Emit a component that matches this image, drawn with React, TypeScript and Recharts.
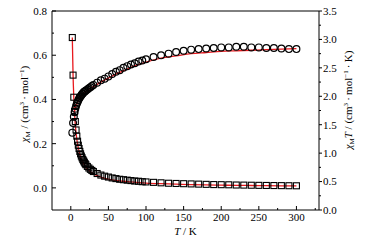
import React from "react";
import {
  ComposedChart,
  XAxis,
  YAxis,
  Scatter,
  Line,
  ReferenceLine,
} from "recharts";

const FONT = "'Liberation Serif', 'Times New Roman', serif";
const RED = "#e8191e";

// measured temperatures (K)
const temps = [
  2, 3, 4, 5, 6, 7, 8, 9, 10, 11, 12, 13, 14, 15, 16, 17, 18, 19, 20, 22, 24,
  26, 28, 30, 35, 40, 45, 50, 55, 60, 65, 70, 75, 80, 85, 90, 95, 100, 110, 120,
  130, 140, 150, 160, 170, 180, 190, 200, 210, 220, 230, 240, 250, 260, 270,
  280, 290, 300,
];

// chi_M (left axis, squares)
const chiM = [
  0.68, 0.51, 0.41, 0.345, 0.3, 0.262, 0.234, 0.211, 0.193, 0.178, 0.165,
  0.154, 0.144, 0.136, 0.128, 0.122, 0.116, 0.11, 0.105, 0.097, 0.09, 0.084,
  0.079, 0.074, 0.065, 0.058, 0.053, 0.049, 0.045, 0.042, 0.039, 0.037, 0.035,
  0.033, 0.031, 0.03, 0.028, 0.027, 0.025, 0.023, 0.021, 0.02, 0.019, 0.018,
  0.017, 0.016, 0.015, 0.0145, 0.014, 0.013, 0.0126, 0.012, 0.0115, 0.011,
  0.0106, 0.0102, 0.0098, 0.0095,
];

// chi_M T (right axis, circles)
const chiMT = [
  1.36, 1.53, 1.64, 1.72, 1.78, 1.83, 1.87, 1.9, 1.93, 1.96, 1.98, 2.0, 2.02,
  2.04, 2.05, 2.07, 2.08, 2.09, 2.1, 2.12, 2.14, 2.16, 2.18, 2.2, 2.24, 2.28,
  2.31, 2.35, 2.39, 2.43, 2.46, 2.5, 2.53, 2.56, 2.58, 2.61, 2.63, 2.65, 2.69,
  2.72, 2.75, 2.78, 2.8, 2.82, 2.83, 2.84, 2.85, 2.86, 2.86, 2.87, 2.87, 2.86,
  2.86, 2.85, 2.85, 2.84, 2.83, 2.83,
];

// fitted curves
const chiFitT = [
  2, 3, 4, 5, 6, 8, 10, 12, 15, 20, 25, 30, 40, 50, 60, 70, 80, 100, 120, 140,
  160, 180, 200, 220, 240, 260, 280, 300,
];
const chiFit = [
  0.68, 0.51, 0.41, 0.335, 0.285, 0.22, 0.18, 0.152, 0.124, 0.094, 0.076,
  0.064, 0.049, 0.04, 0.034, 0.03, 0.027, 0.022, 0.019, 0.017, 0.015, 0.0135,
  0.0125, 0.0115, 0.0108, 0.0101, 0.0095, 0.009,
];
const chiTFitT = [
  5, 6, 8, 10, 12, 15, 20, 25, 30, 40, 50, 60, 70, 80, 100, 120, 140, 160, 180,
  200, 220, 240, 260, 280, 300,
];
const chiTFit = [
  1.74, 1.79, 1.86, 1.92, 1.97, 2.02, 2.08, 2.13, 2.17, 2.25, 2.32, 2.39, 2.45,
  2.51, 2.6, 2.67, 2.71, 2.75, 2.77, 2.79, 2.8, 2.81, 2.82, 2.83, 2.84,
];

const xTicks = [0, 25, 50, 75, 100, 125, 150, 175, 200, 225, 250, 275, 300, 325];
const leftTicks = [0, 0.1, 0.2, 0.3, 0.4, 0.5, 0.6, 0.7, 0.8];
const rightTicks = [
  0, 0.25, 0.5, 0.75, 1, 1.25, 1.5, 1.75, 2, 2.25, 2.5, 2.75, 3, 3.25, 3.5,
];

const chiRows = temps.map((T, i) => ({ T, chi: chiM[i] }));
const chiTRows = temps.map((T, i) => ({ T, chiT: chiMT[i] }));
const chiFitRows = chiFitT.map((T, i) => ({ T, chi: chiFit[i] }));
const chiTFitRows = chiTFitT.map((T, i) => ({ T, chiT: chiTFit[i] }));

const Square = (props: any) => {
  const { cx, cy } = props;
  return (
    <rect x={cx - 3} y={cy - 3} width={6} height={6} fill="none" stroke="#000" strokeWidth={1.1} />
  );
};

const Circle = (props: any) => {
  const { cx, cy } = props;
  return <circle cx={cx} cy={cy} r={3.4} fill="none" stroke="#000" strokeWidth={1.2} />;
};

const isMajor = (v: number, step: number) => Math.abs(v / step - Math.round(v / step)) < 1e-6;

const XTick = (props: any) => {
  const { x, y, payload } = props;
  const v = payload.value;
  const major = isMajor(v, 50);
  return (
    <g>
      <line x1={x} x2={x} y1={y} y2={y - (major ? 4 : 2)} stroke="#000" />
      {major && (
        <text x={x} y={y + 11} textAnchor="middle" fontSize={11} fontFamily={FONT} fill="#000">
          {v}
        </text>
      )}
    </g>
  );
};

const LeftTick = (props: any) => {
  const { x, y, payload } = props;
  const v = payload.value;
  const major = isMajor(v, 0.2);
  return (
    <g>
      <line x1={x} x2={x + (major ? 4 : 2)} y1={y} y2={y} stroke="#000" />
      {major && (
        <text x={x - 5} y={y} dy="0.35em" textAnchor="end" fontSize={11} fontFamily={FONT} fill="#000">
          {v.toFixed(1)}
        </text>
      )}
    </g>
  );
};

const RightTick = (props: any) => {
  const { x, y, payload } = props;
  const v = payload.value;
  const major = isMajor(v, 0.5);
  return (
    <g>
      <line x1={x} x2={x + (major ? 3 : 2)} y1={y} y2={y} stroke="#000" />
      {major && (
        <text x={x + 4} y={y} dy="0.35em" textAnchor="start" fontSize={11} fontFamily={FONT} fill="#000">
          {v.toFixed(1)}
        </text>
      )}
    </g>
  );
};

const LeftTitle = () => (
  <text
    transform="translate(28,104) rotate(-90)"
    textAnchor="middle"
    fontSize={11}
    fontFamily={FONT}
    fill="#000"
  >
    <tspan fontStyle="italic">χ</tspan>
    <tspan fontSize={7} dy={2}>M</tspan>
    <tspan dy={-2}> / (cm</tspan>
    <tspan fontSize={7} dy={-4}>3</tspan>
    <tspan dy={4}>{"\u2009·\u2009"}mol</tspan>
    <tspan fontSize={7} dy={-4}>−1</tspan>
    <tspan dy={4}>)</tspan>
  </text>
);

const RightTitle = () => (
  <text
    transform="translate(352,100) rotate(-90)"
    textAnchor="middle"
    fontSize={11}
    fontFamily={FONT}
    fill="#000"
  >
    <tspan fontStyle="italic">χ</tspan>
    <tspan fontSize={7} dy={2}>M</tspan>
    <tspan dy={-2} fontStyle="italic">T</tspan>
    <tspan> / (cm</tspan>
    <tspan fontSize={7} dy={-4}>3</tspan>
    <tspan dy={4}>{"\u2009·\u2009"}mol</tspan>
    <tspan fontSize={7} dy={-4}>−1</tspan>
    <tspan dy={4}>{"\u2009·\u2009"}K)</tspan>
  </text>
);

const XTitle = () => (
  <text x={185.5} y={235} textAnchor="middle" fontSize={11} fontFamily={FONT} fill="#000">
    <tspan fontStyle="italic">T</tspan>
    <tspan> / K</tspan>
  </text>
);

export default function App() {
  return (
    <div style={{ position: "absolute", left: 0, top: 0 }}>
      <ComposedChart width={366} height={242} margin={{ top: 11, right: 0, bottom: 0, left: 0 }}>
        <XAxis
          dataKey="T"
          type="number"
          domain={[-25, 330]}
          ticks={xTicks}
          interval={0}
          allowDataOverflow
          height={32}
          axisLine={{ stroke: "#000" }}
          tickLine={false}
          tickSize={0}
          tickMargin={0}
          tick={XTick}
        />
        <YAxis
          yAxisId="l"
          orientation="left"
          type="number"
          domain={[-0.1, 0.8]}
          ticks={leftTicks}
          interval={0}
          allowDataOverflow
          width={52}
          axisLine={{ stroke: "#000" }}
          tickLine={false}
          tickSize={0}
          tickMargin={0}
          tick={LeftTick}
        />
        <YAxis
          yAxisId="r"
          orientation="right"
          type="number"
          domain={[0, 3.5]}
          ticks={rightTicks}
          interval={0}
          allowDataOverflow
          width={47}
          axisLine={{ stroke: "#000" }}
          tickLine={false}
          tickSize={0}
          tickMargin={0}
          tick={RightTick}
        />
        <ReferenceLine yAxisId="l" y={0.8} stroke="#000" />
        <Scatter yAxisId="l" data={chiRows} dataKey="chi" shape={Square} isAnimationActive={false} />
        <Scatter yAxisId="r" data={chiTRows} dataKey="chiT" shape={Circle} isAnimationActive={false} />
        <Line
          yAxisId="l"
          data={chiFitRows}
          dataKey="chi"
          type="monotone"
          stroke={RED}
          strokeWidth={1.3}
          dot={false}
          isAnimationActive={false}
        />
        <Line
          yAxisId="r"
          data={chiTFitRows}
          dataKey="chiT"
          type="monotone"
          stroke={RED}
          strokeWidth={1.3}
          dot={false}
          isAnimationActive={false}
        />
        <LeftTitle />
        <RightTitle />
        <XTitle />
      </ComposedChart>
    </div>
  );
}
